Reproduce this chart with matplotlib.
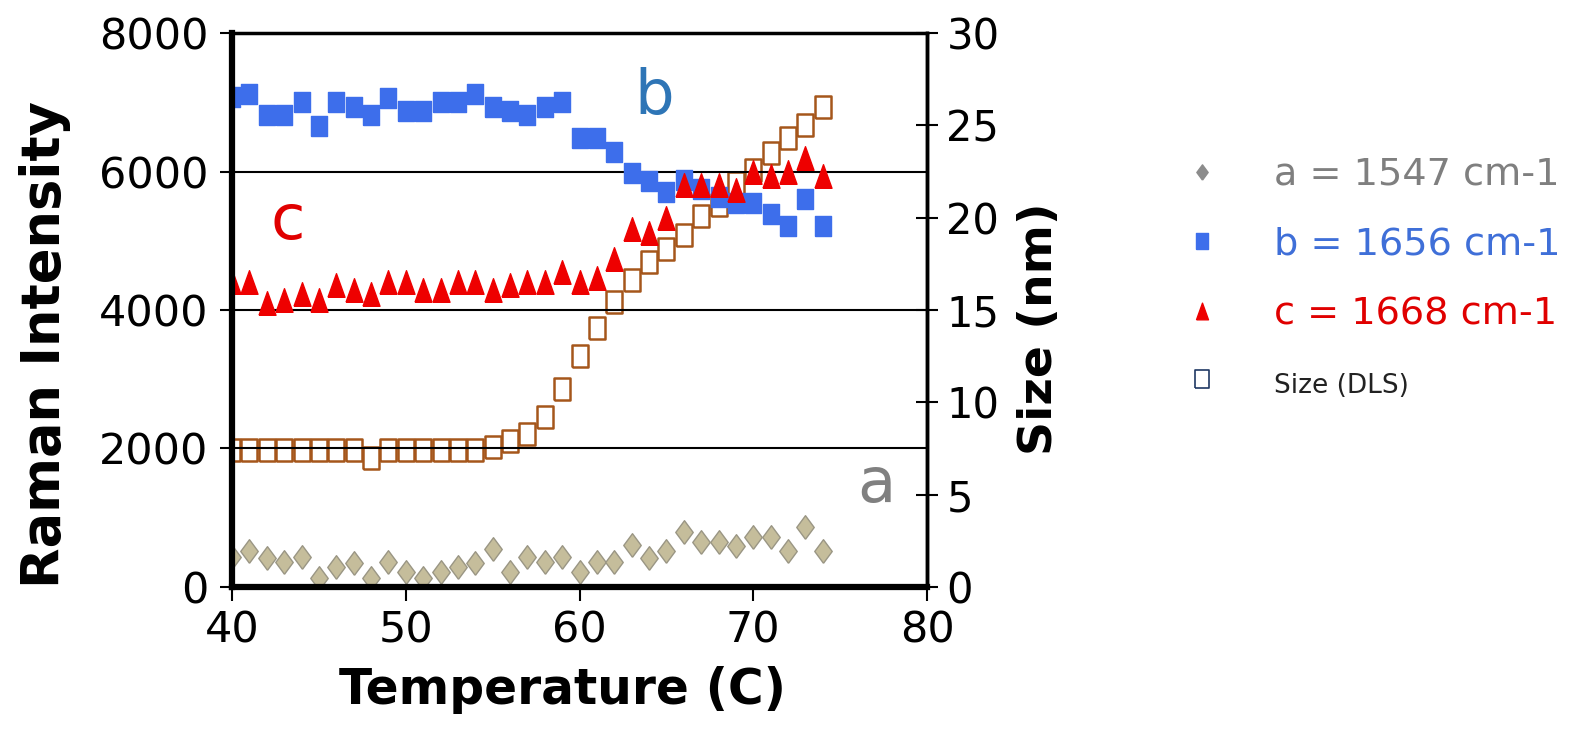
import numpy as np
import matplotlib
matplotlib.use('Agg')
from matplotlib import pyplot as plt
from matplotlib.lines import Line2D

plt.rcParams['font.family'] = 'DejaVu Sans'

temp = list(range(40, 75))

raman_a = [427, 523, 412, 355, 427, 125, 283, 340, 125, 355, 220, 125, 220, 283, 340,
           547, 211, 427, 355, 427, 220, 355, 360, 604, 412, 523, 787, 652, 652, 594,
           724, 724, 523, 868, 523]
raman_b = [7070, 7120, 6810, 6810, 7000, 6660, 7000, 6930, 6810, 7060, 6880, 6880, 7000, 7000, 7120,
           6930, 6880, 6810, 6930, 7000, 6480, 6480, 6280, 5980, 5860, 5700, 5880, 5750, 5630, 5540,
           5540, 5380, 5220, 5610, 5220]
raman_c = [4410, 4410, 4100, 4150, 4230, 4150, 4360, 4290, 4230, 4410, 4410, 4290, 4290, 4410, 4410,
           4290, 4360, 4410, 4410, 4550, 4410, 4460, 4730, 5170, 5110, 5330, 5810, 5800, 5810, 5740,
           6000, 5930, 5990, 6190, 5930]
size_dls = [7.4, 7.4, 7.4, 7.4, 7.4, 7.4, 7.4, 7.4, 7.0, 7.4, 7.4, 7.4, 7.4, 7.4, 7.4,
            7.6, 7.9, 8.3, 9.2, 10.7, 12.5, 14.0, 15.45, 16.6, 17.6, 18.3, 19.05, 20.1, 20.7, 21.9,
            22.6, 23.5, 24.3, 25.0, 26.0]

labels = ['a = 1547 cm-1', 'b = 1656 cm-1', 'c = 1668 cm-1', 'Size (DLS)']
label_colors = ['#7f7f7f', '#3f6fd8', '#e00000', '#222222']

# tall marker shapes
rect = [(-0.37, -0.5), (0.37, -0.5), (0.37, 0.5), (-0.37, 0.5), (-0.37, -0.5)]
tri = [(-0.36, -0.5), (0.36, -0.5), (0, 0.5), (-0.36, -0.5)]
diam = [(0, -0.5), (0.37, 0), (0, 0.5), (-0.37, 0), (0, -0.5)]

fig = plt.figure(figsize=(15.95, 7.34), dpi=100)
ax = fig.add_axes([0.1455, 0.2003, 0.4357, 0.7547])
ax2 = ax.twinx()

ax2.plot(temp, size_dls, ls='none', marker=rect, markersize=16, mfc='white',
         mec='#a5561b', mew=1.8)
ax.plot(temp, raman_b, ls='none', marker=rect, markersize=15, color='#3d6eeb')
ax.plot(temp, raman_c, ls='none', marker=tri, markersize=17, color='#ee0000')
ax.plot(temp, raman_a, ls='none', marker=diam, markersize=17, mfc='#c5bd9b',
        mec='#9a9684', mew=1)

ax.set_zorder(ax2.get_zorder() + 1)
ax.patch.set_visible(False)

ax.set_xlim(40, 80)
ax.set_ylim(0, 8000)
ax2.set_ylim(0, 30)
ax.set_xticks([40, 50, 60, 70, 80])
ax.set_yticks([0, 2000, 4000, 6000, 8000])
ax2.set_yticks([0, 5, 10, 15, 20, 25, 30])
ax.grid(axis='y', color='black', lw=1.5)

ax.tick_params(axis='x', direction='out', length=10, width=1.5, labelsize=31, pad=6)
ax.tick_params(axis='y', direction='out', length=9, width=1.5, labelsize=31, pad=8)
ax2.tick_params(axis='y', direction='inout', length=16, width=1.5, labelsize=30, pad=6)

for s in ['left', 'bottom']:
    ax.spines[s].set_linewidth(4.5)
for s in ['top', 'right']:
    ax.spines[s].set_linewidth(2.5)
for s in ['left', 'bottom', 'top']:
    ax2.spines[s].set_visible(False)
ax2.spines['right'].set_linewidth(2.5)

ax.set_xlabel('Temperature (C)', fontsize=35, fontweight='bold')
ax.set_ylabel('Raman Intensity', fontsize=38, fontweight='bold')
ax2.set_ylabel('Size (nm)', fontsize=34, fontweight='bold')
ax.xaxis.set_label_coords(0.475, -0.143)
ax.yaxis.set_label_coords(-0.232, 0.437)
ax2.yaxis.set_label_coords(1.13, 0.467)

ax.text(64.3, 7076, 'b', fontsize=45, color='#2e75b6', ha='center', va='center')
ax.text(43.2, 5270, 'c', fontsize=45, color='#e00000', ha='center', va='center')
ax.text(77.1, 1473, 'a', fontsize=45, color='#808080', ha='center', va='center')

handles = [
    Line2D([], [], ls='none', marker=diam, markersize=11, mfc='#8c8c8c', mec='#8c8c8c'),
    Line2D([], [], ls='none', marker=rect, markersize=12, color='#3d6eeb'),
    Line2D([], [], ls='none', marker=tri, markersize=12, color='#ee0000'),
    Line2D([], [], ls='none', marker=rect, markersize=13, mfc='white', mec='#1f3864', mew=1.2),
]
leg = fig.legend(handles, labels, loc='upper left', bbox_to_anchor=(0.72, 0.833),
                 frameon=False, fontsize=27.5, labelspacing=0.88, handlelength=1.0,
                 handletextpad=1.4, labelcolor=label_colors)
leg.get_texts()[3].set_fontsize(19)

fig.savefig('out.png', dpi=100)
